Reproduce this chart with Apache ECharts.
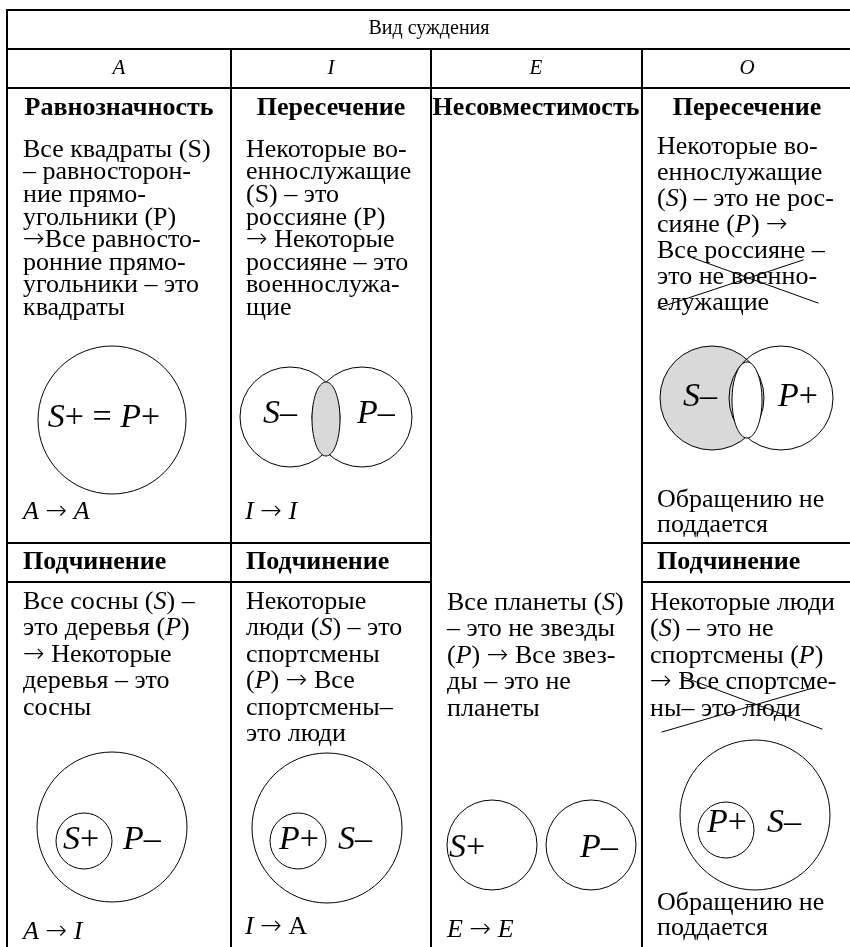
<!DOCTYPE html>
<html>
<head>
<meta charset="utf-8">
<script src="https://cdn.jsdelivr.net/npm/echarts/dist/echarts.min.js"></script>
<style>
  html, body { margin: 0; padding: 0; background: #fff; }
  #main { width: 850px; height: 947px; }
</style>
</head>
<body>
<div id="main"></div>
<script>
const FONT = '"Liberation Serif", "Times New Roman", serif';
const GRAY = '#d9d9d9';

// линии таблицы [x1, y1, x2, y2]
const tableLines = [
  [7, 10, 852, 10], [7, 49, 852, 49], [7, 88, 852, 88],
  [7, 543, 431, 543], [642, 543, 852, 543],
  [7, 582, 431, 582], [642, 582, 852, 582],
  [7, 10, 7, 947], [231, 49, 231, 947], [431, 49, 431, 947], [642, 49, 642, 947]
];

// зачеркивания (столбец O)
const crossLines = [
  [658, 308, 803, 260], [693, 258, 818, 303],
  [662, 732, 813, 688], [683, 677, 822, 729]
];

// круги Эйлера [cx, cy, r, fill]
const circles = [
  [112, 420, 74, 'none'],
  [290, 417, 50, 'none'], [362, 417, 50, 'none'],
  [712, 398, 52, GRAY], [781, 398, 52, 'none'],
  [112, 827, 75, 'none'], [84, 841, 28, 'none'],
  [327, 828, 75, 'none'], [298, 841, 28, 'none'],
  [492, 845, 45, 'none'], [591, 845, 45, 'none'],
  [755, 815, 75, 'none'], [726, 830, 28, 'none']
];

// пересечения [cx, cy, rx, ry, fill]
const lenses = [
  [326, 419, 14, 37, GRAY],
  [747, 400, 15, 38, '#fff']
];

const header = 'Вид суждения';
const kinds = ['A', 'I', 'E', 'O'];
const colCenters = [119, 331, 536, 747];
const topTitles = ['Равнозначность', 'Пересечение', 'Несовместимость', 'Пересечение'];
const subTitle = 'Подчинение';

const textA1 = ['Все квадраты (S)', '– равносторон-', 'ние прямо-', 'угольники (P)',
  '→Все равносто-', 'ронние прямо-', 'угольники – это', 'квадраты'];
const textI1 = ['Некоторые во-', 'еннослужащие', '(S) – это', 'россияне (P)',
  '→ Некоторые', 'россияне – это', 'военнослужа-', 'щие'];
const textO1 = ['Некоторые во-', 'еннослужащие', '({i|S}) – это не рос-', 'сияне ({i|P}) →',
  'Все россияне –', 'это не военно-', 'елужащие'];
const textA2 = ['Все сосны ({i|S}) –', 'это деревья ({i|P})', '→ Некоторые', 'деревья – это', 'сосны'];
const textI2 = ['Некоторые', 'люди ({i|S}) – это', 'спортсмены', '({i|P}) → Все', 'спортсмены–', 'это люди'];
const textE2 = ['Все планеты ({i|S})', '– это не звезды', '({i|P}) → Все звез-', 'ды – это не', 'планеты'];
const textO2 = ['Некоторые люди', '({i|S}) – это не', 'спортсмены ({i|P})', '→ Все спортсме-', 'ны– это люди'];
const noConv = ['Обращению не', 'поддается'];

// формулы: [x, y, текст, выравнивание]
const mathLabels = [
  [104, 418, '{i|S}+ = {i|P}+', 'center'],
  [263, 414, '{i|S}–', 'left'], [357, 414, '{i|P}–', 'left'],
  [683, 397, '{i|S}–', 'left'], [778, 397, '{i|P}+', 'left'],
  [63, 840, '{i|S}+', 'left'], [123, 840, '{i|P}–', 'left'],
  [279, 840, '{i|P}+', 'left'], [338, 840, '{i|S}–', 'left'],
  [449, 848, '{i|S}+', 'left'], [580, 848, '{i|P}–', 'left'],
  [707, 823, '{i|P}+', 'left'], [767, 823, '{i|S}–', 'left']
];
const rules = [
  [23, 512, '{i|A} → {i|A}'], [245, 512, '{i|I} → {i|I}'],
  [23, 932, '{i|A} → {i|I}'], [245, 927, '{i|I} → A'], [447, 930, '{i|E} → {i|E}']
];

const styles = {
  head: { size: 20 },
  letter: { size: 21, italic: true },
  bold: { size: 26, bold: true },
  body: { size: 26 },
  math: { size: 34 }
};

const texts = [];
function add(x, y, t, kind, align) {
  // стрелку берем из DejaVu Sans (тонкая) — у Liberation она слишком короткая
  texts.push({ x, y, t: t.replace(/→/g, '{a|→}'), kind, align: align || 'left' });
}
function block(lines, x, y0, step) { lines.forEach((t, i) => add(x, y0 + i * step, t, 'body')); }

add(429, 29, header, 'head', 'center');
kinds.forEach((k, i) => add(colCenters[i], 68, k, 'letter', 'center'));
topTitles.forEach((t, i) => add(colCenters[i], 108, t, 'bold', 'center'));
[23, 246, 657].forEach(x => add(x, 562, subTitle, 'bold'));
block(textA1, 23, 150, 22.6);
block(textI1, 246, 150, 22.6);
block(textO1, 657, 147, 26);
block(textA2, 23, 602, 26.5);
block(textI2, 246, 602, 26.5);
block(textE2, 447, 603, 26.5);
block(textO2, 650, 603, 26.5);
block(noConv, 657, 500, 25);
block(noConv, 657, 903, 25);
rules.forEach(r => add(r[0], r[1], r[2], 'body'));
mathLabels.forEach(m => add(m[0], m[1], m[2], 'math', m[3]));

const chart = echarts.init(document.getElementById('main'));

function segItem(width) {
  return function (params, api) {
    const p1 = api.coord([api.value(0), api.value(1)]);
    const p2 = api.coord([api.value(2), api.value(3)]);
    return {
      type: 'line',
      shape: { x1: p1[0], y1: p1[1], x2: p2[0], y2: p2[1] },
      style: { stroke: '#000', lineWidth: width, lineCap: 'square' }
    };
  };
}

chart.setOption({
  animation: false,
  backgroundColor: '#fff',
  grid: { left: 0, right: 0, top: 0, bottom: 0 },
  xAxis: { type: 'value', min: 0, max: 850, show: false },
  yAxis: { type: 'value', min: 0, max: 947, inverse: true, show: false },
  series: [
    {
      type: 'custom',
      data: circles,
      renderItem: function (params, api) {
        const c = circles[params.dataIndex];
        const p = api.coord([c[0], c[1]]);
        const r = api.size([c[2], 0])[0];
        return {
          type: 'circle',
          shape: { cx: p[0], cy: p[1], r: r },
          style: { fill: c[3], stroke: '#000', lineWidth: 1 }
        };
      }
    },
    {
      type: 'custom',
      data: lenses,
      renderItem: function (params, api) {
        const e = lenses[params.dataIndex];
        const p = api.coord([e[0], e[1]]);
        const s = api.size([e[2], e[3]]);
        return {
          type: 'ellipse',
          shape: { cx: p[0], cy: p[1], rx: s[0], ry: s[1] },
          style: { fill: e[4], stroke: '#000', lineWidth: 1 }
        };
      }
    },
    { type: 'custom', data: tableLines, renderItem: segItem(2) },
    { type: 'custom', data: crossLines, renderItem: segItem(1) },
    {
      type: 'custom',
      data: texts.map(d => [d.x, d.y]),
      renderItem: function (params, api) {
        const d = texts[params.dataIndex];
        const st = styles[d.kind];
        const p = api.coord([d.x, d.y]);
        return {
          type: 'text',
          x: p[0],
          y: p[1],
          style: {
            text: d.t,
            fill: '#000',
            fontFamily: FONT,
            fontSize: st.size,
            fontWeight: st.bold ? 'bold' : 'normal',
            fontStyle: st.italic ? 'italic' : 'normal',
            align: d.align,
            verticalAlign: 'middle',
            rich: {
              i: { fontFamily: FONT, fontSize: st.size, fontStyle: 'italic', fill: '#000' },
              a: { fontFamily: '"DejaVu Sans", sans-serif', fontWeight: 200, fontSize: st.size, fill: '#000' }
            }
          }
        };
      }
    }
  ]
});
</script>
</body>
</html>
